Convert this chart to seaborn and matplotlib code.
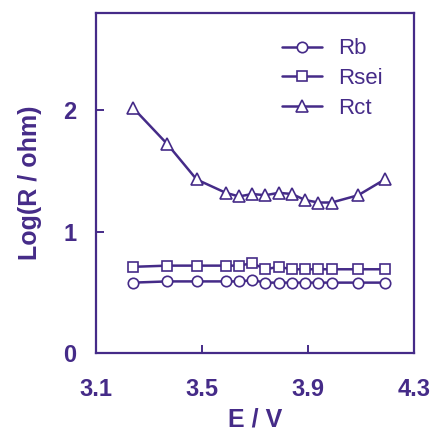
import matplotlib
matplotlib.use('Agg')
import matplotlib.pyplot as plt
import numpy as np
import pandas as pd
import seaborn as sns

# data
voltage = [3.24, 3.37, 3.48, 3.59, 3.64, 3.69, 3.74, 3.79, 3.84, 3.89, 3.94, 3.99, 4.09, 4.19]
rb = [0.58, 0.59, 0.59, 0.59, 0.59, 0.60, 0.58, 0.58, 0.58, 0.58, 0.58, 0.58, 0.58, 0.58]
rsei = [0.71, 0.72, 0.72, 0.72, 0.72, 0.74, 0.69, 0.71, 0.69, 0.69, 0.69, 0.69, 0.69, 0.69]
rct = [2.02, 1.72, 1.43, 1.32, 1.29, 1.31, 1.30, 1.32, 1.31, 1.26, 1.24, 1.24, 1.30, 1.43]
series_names = ['Rb', 'Rsei', 'Rct']
series_markers = ['o', 's', '^']
x_ticks = [3.1, 3.5, 3.9, 4.3]
y_ticks = [0, 1, 2]

purple = '#452b88'

sns.set_style('ticks')
plt.rcParams['font.family'] = ['Liberation Sans', 'DejaVu Sans']

fig = plt.figure(figsize=(4.32, 4.38), dpi=100)
ax = fig.add_axes([0.222, 0.194, 0.736, 0.776])

df = pd.DataFrame({'E': voltage, 'Rb': rb, 'Rsei': rsei, 'Rct': rct})

for name, mk in zip(series_names, series_markers):
    ms = 8.5 if mk == '^' else 7.5
    sns.lineplot(data=df, x='E', y=name, marker=mk, color=purple, lw=1.8,
                 markersize=ms, markerfacecolor='white', markeredgecolor=purple,
                 markeredgewidth=1.2, label=name, ax=ax)

ax.set_xlim(3.1, 4.3)
ax.set_ylim(0, 2.8)
ax.set_xticks(x_ticks)
ax.set_xticklabels([f'{t:.1f}' for t in x_ticks])
ax.set_yticks(y_ticks)
ax.set_yticklabels([str(t) for t in y_ticks])

for side in ['left', 'right', 'top', 'bottom']:
    ax.spines[side].set_color(purple)
    ax.spines[side].set_linewidth(1.6)
ax.tick_params(axis='both', direction='in', length=6, width=1.4, color=purple,
               labelcolor=purple, labelsize=17)
ax.tick_params(axis='x', pad=18)
ax.tick_params(axis='y', pad=14)
for lab in ax.get_xticklabels() + ax.get_yticklabels():
    lab.set_fontweight('bold')

ax.set_xlabel('E / V', fontsize=18, fontweight='bold', color=purple, labelpad=5)
ax.set_ylabel('Log(R / ohm)', fontsize=18, fontweight='bold', color=purple, labelpad=15)

leg = ax.legend(loc='upper left', bbox_to_anchor=(0.585, 0.926), frameon=False,
                fontsize=16, borderpad=0, borderaxespad=0, handlelength=1.8,
                handletextpad=0.75, labelspacing=0.4)
for t in leg.get_texts():
    t.set_color(purple)

fig.savefig('out.png', dpi=100)
